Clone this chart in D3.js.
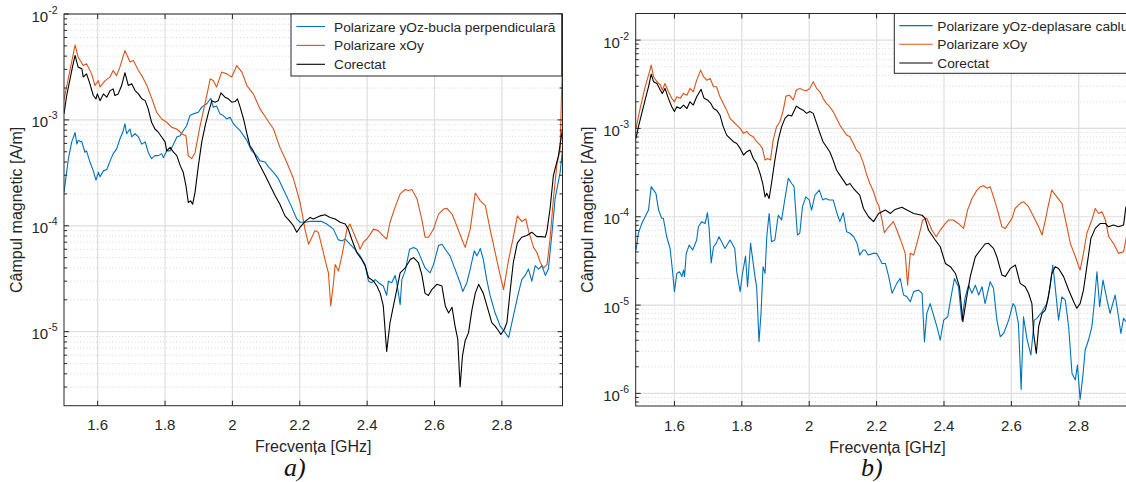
<!DOCTYPE html>
<html><head><meta charset="utf-8">
<script src="https://cdn.jsdelivr.net/npm/d3@7"></script>
<style>
body{margin:0;background:#fff}
svg{display:block}
text{font-family:"Liberation Sans",Arial,Helvetica,sans-serif;fill:#262626}
</style>
</head><body>
<svg id="c" width="1126" height="482"></svg>
<script>
// ---------- DATA (frequency GHz, field A/m) ----------
const aBlue = [[1.5,2.07e-4],[1.513,4.3e-4],[1.523,6.2e-4],[1.533,7.6e-4],[1.538,5.9e-4],[1.542,6.4e-4],[1.553,6.2e-4],[1.562,4.95e-4],[1.567,5.1e-4],[1.577,4.0e-4],[1.587,3.3e-4],[1.595,2.7e-4],[1.602,3.2e-4],[1.607,2.9e-4],[1.617,3.3e-4],[1.627,3.4e-4],[1.637,4.1e-4],[1.646,4.8e-4],[1.656,5.3e-4],[1.666,6.6e-4],[1.676,7.9e-4],[1.681,9.2e-4],[1.686,7.4e-4],[1.696,8.2e-4],[1.701,6.9e-4],[1.711,7.4e-4],[1.721,6.9e-4],[1.731,5.9e-4],[1.741,6.2e-4],[1.750,4.95e-4],[1.760,4.3e-4],[1.770,4.6e-4],[1.780,4.6e-4],[1.790,4.8e-4],[1.795,4.4e-4],[1.805,5.1e-4],[1.815,5.1e-4],[1.825,5.9e-4],[1.835,6.9e-4],[1.845,7.1e-4],[1.854,7.9e-4],[1.864,8.8e-4],[1.874,1.1e-3],[1.884,1.14e-3],[1.899,1.18e-3],[1.909,1.32e-3],[1.924,1.42e-3],[1.936,1.6e-3],[1.943,1.32e-3],[1.953,1.35e-3],[1.963,1.14e-3],[1.973,1.1e-3],[1.983,1.02e-3],[1.993,1.06e-3],[2.003,9.2e-4],[2.013,8.5e-4],[2.023,7.9e-4],[2.033,7.1e-4],[2.043,6.4e-4],[2.057,5.1e-4],[2.072,4.6e-4],[2.082,4.1e-4],[2.097,4.0e-4],[2.107,3.6e-4],[2.122,3.2e-4],[2.136,2.8e-4],[2.146,2.4e-4],[2.161,1.9e-4],[2.176,1.5e-4],[2.191,1.16e-4],[2.201,1.08e-4],[2.216,1.08e-4],[2.231,1.1e-4],[2.265,1.1e-4],[2.280,1.04e-4],[2.300,9.3e-5],[2.314,7.4e-5],[2.325,7.2e-5],[2.335,7.5e-5],[2.349,6.7e-5],[2.364,6.0e-5],[2.379,5.2e-5],[2.394,4.3e-5],[2.404,3.0e-5],[2.414,2.9e-5],[2.424,3.1e-5],[2.434,2.9e-5],[2.448,2.7e-5],[2.458,2.2e-5],[2.463,3.0e-5],[2.473,2.9e-5],[2.483,3.4e-5],[2.488,2.9e-5],[2.498,1.8e-5],[2.503,3.1e-5],[2.513,3.75e-5],[2.526,6.0e-5],[2.538,6.25e-5],[2.548,6.0e-5],[2.557,5.2e-5],[2.572,4.0e-5],[2.587,3.6e-5],[2.597,4.3e-5],[2.612,6.5e-5],[2.622,6.7e-5],[2.632,6.0e-5],[2.646,5.2e-5],[2.661,3.9e-5],[2.676,2.9e-5],[2.684,2.4e-5],[2.696,2.9e-5],[2.706,3.9e-5],[2.718,5.8e-5],[2.726,5.2e-5],[2.736,6.1e-5],[2.745,4.8e-5],[2.755,3.1e-5],[2.765,2.2e-5],[2.780,1.5e-5],[2.795,1.13e-5],[2.810,9.8e-6],[2.820,8.8e-6],[2.834,1.4e-5],[2.849,2.3e-5],[2.859,3.1e-5],[2.869,3.4e-5],[2.879,3.9e-5],[2.889,3.0e-5],[2.899,4.2e-5],[2.909,3.9e-5],[2.919,4.2e-5],[2.929,3.4e-5],[2.938,3.9e-5],[2.948,8.0e-5],[2.958,1.8e-4],[2.973,3.2e-4],[2.980,5.3e-4]];

const aOrange = [[1.5,1.55e-3],[1.533,5.1e-3],[1.542,3.92e-3],[1.557,3.26e-3],[1.567,3.39e-3],[1.582,2.72e-3],[1.592,2.11e-3],[1.602,2.35e-3],[1.607,2.05e-3],[1.622,2.35e-3],[1.637,2.55e-3],[1.646,2.93e-3],[1.656,2.62e-3],[1.666,3.15e-3],[1.681,4.53e-3],[1.696,3.52e-3],[1.706,3.64e-3],[1.721,2.93e-3],[1.731,2.62e-3],[1.746,2.11e-3],[1.761,1.58e-3],[1.775,1.18e-3],[1.790,1.02e-3],[1.805,9.5e-4],[1.820,8.5e-4],[1.835,8.2e-4],[1.850,7.4e-4],[1.862,7.1e-4],[1.869,4.6e-4],[1.879,4.3e-4],[1.889,4.9e-4],[1.904,8.8e-4],[1.924,1.7e-3],[1.934,2.44e-3],[1.943,2.35e-3],[1.953,2.04e-3],[1.968,2.83e-3],[1.983,2.72e-3],[1.998,2.54e-3],[2.013,3.26e-3],[2.028,2.83e-3],[2.043,2.11e-3],[2.062,1.76e-3],[2.082,1.27e-3],[2.102,1.02e-3],[2.122,8.2e-4],[2.141,5.5e-4],[2.161,4.0e-4],[2.181,2.8e-4],[2.201,1.66e-4],[2.216,9.1e-5],[2.226,6.7e-5],[2.236,7.8e-5],[2.245,9.0e-5],[2.255,8.7e-5],[2.265,6.5e-5],[2.275,4.8e-5],[2.285,3.6e-5],[2.292,1.75e-5],[2.300,2.9e-5],[2.305,4.3e-5],[2.315,3.75e-5],[2.325,5.2e-5],[2.340,9.3e-5],[2.349,1.04e-4],[2.359,8.7e-5],[2.374,6.7e-5],[2.379,6.0e-5],[2.389,7.0e-5],[2.399,7.5e-5],[2.409,8.3e-5],[2.419,9.3e-5],[2.433,9.0e-5],[2.448,8.0e-5],[2.458,7.5e-5],[2.468,1.08e-4],[2.483,1.5e-4],[2.498,2.0e-4],[2.513,2.2e-4],[2.523,2.15e-4],[2.533,2.2e-4],[2.548,1.8e-4],[2.562,1.16e-4],[2.572,7.8e-5],[2.582,7.8e-5],[2.597,9.3e-5],[2.612,1.29e-4],[2.627,1.44e-4],[2.637,1.46e-4],[2.652,1.29e-4],[2.666,1.0e-4],[2.681,7.5e-5],[2.691,6.25e-5],[2.706,9.3e-5],[2.721,2.04e-4],[2.736,1.72e-4],[2.751,1.55e-4],[2.765,9.3e-5],[2.780,5.6e-5],[2.795,3.4e-5],[2.805,2.5e-5],[2.820,4.8e-5],[2.834,7.8e-5],[2.846,1.24e-4],[2.859,1.1e-4],[2.871,1.16e-4],[2.879,9.0e-5],[2.894,6.25e-5],[2.904,5.6e-5],[2.914,4.5e-5],[2.924,4.0e-5],[2.934,4.3e-5],[2.943,7.5e-5],[2.953,1.79e-4],[2.963,3.7e-4],[2.973,5.3e-4],[2.980,4.0e-3]];

const aBlack = [[1.5,1.14e-3],[1.508,1.7e-3],[1.518,2.44e-3],[1.526,3.26e-3],[1.533,4.06e-3],[1.538,3.52e-3],[1.542,3.15e-3],[1.553,3.04e-3],[1.557,2.54e-3],[1.567,2.72e-3],[1.577,2.19e-3],[1.587,1.7e-3],[1.595,1.58e-3],[1.599,1.76e-3],[1.607,1.52e-3],[1.617,1.76e-3],[1.627,1.64e-3],[1.637,1.89e-3],[1.646,1.96e-3],[1.651,1.7e-3],[1.661,1.76e-3],[1.671,2.11e-3],[1.681,2.79e-3],[1.691,2.11e-3],[1.701,2.19e-3],[1.711,1.89e-3],[1.721,1.76e-3],[1.731,1.58e-3],[1.741,1.52e-3],[1.750,1.27e-3],[1.760,9.5e-4],[1.770,8.2e-4],[1.780,7.65e-4],[1.790,6.9e-4],[1.800,6.2e-4],[1.805,5.1e-4],[1.815,5.5e-4],[1.825,4.95e-4],[1.835,4.6e-4],[1.845,3.7e-4],[1.854,3.2e-4],[1.862,2.4e-4],[1.869,1.66e-4],[1.876,1.72e-4],[1.882,1.6e-4],[1.889,2.07e-4],[1.899,3.7e-4],[1.909,6.2e-4],[1.919,8.8e-4],[1.929,1.18e-3],[1.939,1.52e-3],[1.948,1.47e-3],[1.958,1.52e-3],[1.966,1.8e-3],[1.978,1.64e-3],[1.988,1.58e-3],[1.998,1.47e-3],[2.008,1.49e-3],[2.015,1.58e-3],[2.023,1.32e-3],[2.033,1.02e-3],[2.043,7.4e-4],[2.052,5.7e-4],[2.062,5.1e-4],[2.072,4.3e-4],[2.082,3.7e-4],[2.097,3.0e-4],[2.112,2.4e-4],[2.127,1.92e-4],[2.141,1.6e-4],[2.156,1.24e-4],[2.171,1.1e-4],[2.181,1.0e-4],[2.191,8.7e-5],[2.201,9.7e-5],[2.216,1.1e-4],[2.231,1.2e-4],[2.240,1.16e-4],[2.260,1.24e-4],[2.275,1.27e-4],[2.290,1.2e-4],[2.305,1.16e-4],[2.320,1.08e-4],[2.335,1.04e-4],[2.344,9.3e-5],[2.354,7.5e-5],[2.369,5.6e-5],[2.384,4.8e-5],[2.394,4.2e-5],[2.404,3.25e-5],[2.419,3.0e-5],[2.429,2.7e-5],[2.439,2.3e-5],[2.448,1.75e-5],[2.458,6.5e-6],[2.468,1.22e-5],[2.478,1.75e-5],[2.488,2.5e-5],[2.498,3.6e-5],[2.513,4.0e-5],[2.528,4.8e-5],[2.538,5.0e-5],[2.552,4.5e-5],[2.562,3.5e-5],[2.572,2.3e-5],[2.582,2.2e-5],[2.592,2.5e-5],[2.607,2.8e-5],[2.622,2.7e-5],[2.632,1.75e-5],[2.642,1.5e-5],[2.652,1.7e-5],[2.661,1.13e-5],[2.669,8.5e-6],[2.676,3.0e-6],[2.683,5.9e-6],[2.691,8.2e-6],[2.701,9.8e-6],[2.711,1.6e-5],[2.721,2.3e-5],[2.731,2.8e-5],[2.745,2.3e-5],[2.760,1.57e-5],[2.770,1.22e-5],[2.780,1.13e-5],[2.790,1.02e-5],[2.797,9.4e-6],[2.807,1.05e-5],[2.815,1.22e-5],[2.825,2.5e-5],[2.834,4.5e-5],[2.846,6.9e-5],[2.859,7.8e-5],[2.874,8.1e-5],[2.889,8.7e-5],[2.904,7.9e-5],[2.919,7.9e-5],[2.929,7.8e-5],[2.934,9.0e-5],[2.943,1.44e-4],[2.953,3.0e-4],[2.968,4.6e-4],[2.980,8.2e-4]];

const bBlue = [[1.486,4.2e-5],[1.493,6.5e-5],[1.503,8.4e-5],[1.513,1.0e-4],[1.523,1.19e-4],[1.531,2.19e-4],[1.538,2.0e-4],[1.545,1.84e-4],[1.553,1.19e-4],[1.562,9.6e-5],[1.567,9.6e-5],[1.577,5.94e-5],[1.587,4.38e-5],[1.594,2.49e-5],[1.600,1.42e-5],[1.607,2.28e-5],[1.615,2.38e-5],[1.622,2.1e-5],[1.627,2.49e-5],[1.630,2.1e-5],[1.635,3.85e-5],[1.644,4.78e-5],[1.654,4.2e-5],[1.666,5.45e-5],[1.671,7.7e-5],[1.681,8.8e-5],[1.691,8.4e-5],[1.698,1.11e-4],[1.703,7.38e-5],[1.709,3.0e-5],[1.716,4.57e-5],[1.724,5.0e-5],[1.732,5.94e-5],[1.740,5.21e-5],[1.750,4.38e-5],[1.765,5.45e-5],[1.779,4.38e-5],[1.785,2.38e-5],[1.795,1.42e-5],[1.802,2.28e-5],[1.811,3.59e-5],[1.817,1.61e-5],[1.826,5.0e-5],[1.839,2.1e-5],[1.844,1.61e-5],[1.851,3.85e-6],[1.857,8.05e-6],[1.863,2.72e-5],[1.869,2.28e-5],[1.874,5.94e-5],[1.881,1.09e-4],[1.888,5.21e-5],[1.898,5.45e-5],[1.908,1.04e-4],[1.918,9.2e-5],[1.928,1.61e-4],[1.938,2.72e-4],[1.948,2.38e-4],[1.955,2.19e-4],[1.965,6.2e-5],[1.972,6.5e-5],[1.980,1.3e-4],[1.990,1.68e-4],[2.000,1.55e-4],[2.007,1.19e-4],[2.017,1.76e-4],[2.030,2.0e-4],[2.040,1.55e-4],[2.049,1.61e-4],[2.059,1.55e-4],[2.071,1.55e-4],[2.081,1.14e-4],[2.091,8.8e-5],[2.101,1.11e-4],[2.111,6.76e-5],[2.121,6.5e-5],[2.132,5.94e-5],[2.142,5.0e-5],[2.150,3.68e-5],[2.160,4.2e-5],[2.166,4.2e-5],[2.175,3.68e-5],[2.190,3.85e-5],[2.200,3.85e-5],[2.206,3.52e-5],[2.216,2.96e-5],[2.226,2.96e-5],[2.236,2.1e-5],[2.246,1.36e-5],[2.260,1.76e-5],[2.270,2.0e-5],[2.280,1.3e-5],[2.290,1.24e-5],[2.300,1.09e-5],[2.310,1.42e-5],[2.325,1.48e-5],[2.335,1.36e-5],[2.342,3.85e-6],[2.349,8.05e-6],[2.359,1.04e-5],[2.369,7.7e-6],[2.379,5.69e-6],[2.389,4.02e-6],[2.399,6.76e-6],[2.411,7.38e-6],[2.421,1.24e-5],[2.431,2.0e-5],[2.443,1.61e-5],[2.453,6.76e-6],[2.463,1.24e-5],[2.473,1.68e-5],[2.483,1.36e-5],[2.493,1.68e-5],[2.503,1.3e-5],[2.513,1.61e-5],[2.522,1.04e-5],[2.537,1.84e-5],[2.547,1.55e-5],[2.557,6.76e-6],[2.567,4.38e-6],[2.577,4.77e-6],[2.592,6.76e-6],[2.605,1.04e-5],[2.611,9.6e-6],[2.621,6.2e-6],[2.629,1.11e-6],[2.636,7.38e-6],[2.646,4.2e-6],[2.658,2.72e-6],[2.668,6.76e-6],[2.676,7.07e-6],[2.691,8.4e-6],[2.705,1.04e-5],[2.715,1.61e-5],[2.723,2.84e-5],[2.730,1.61e-5],[2.740,6.76e-6],[2.750,1.24e-5],[2.760,1.14e-5],[2.770,5.69e-6],[2.780,1.68e-6],[2.790,1.42e-6],[2.796,2.1e-6],[2.804,8.55e-7],[2.812,1.55e-6],[2.819,3.1e-6],[2.829,4.02e-6],[2.839,5.69e-6],[2.846,1.04e-5],[2.854,2.38e-5],[2.862,9.6e-6],[2.872,1.92e-5],[2.884,1.14e-5],[2.893,8.05e-6],[2.908,1.3e-5],[2.918,7.38e-6],[2.925,4.77e-6],[2.933,7.07e-6],[2.940,6.5e-6],[2.945,6.2e-6]];

const bOrange = [[1.486,1.0e-3],[1.498,1.68e-3],[1.513,2.96e-3],[1.526,4.39e-3],[1.531,5.21e-3],[1.538,3.85e-3],[1.548,3.38e-3],[1.558,3.1e-3],[1.564,2.72e-3],[1.572,3.23e-3],[1.582,2.6e-3],[1.592,2.19e-3],[1.600,2.0e-3],[1.607,2.28e-3],[1.617,2.19e-3],[1.627,2.49e-3],[1.637,2.38e-3],[1.646,2.84e-3],[1.656,2.6e-3],[1.666,3.52e-3],[1.678,4.57e-3],[1.686,3.85e-3],[1.696,3.52e-3],[1.706,3.68e-3],[1.716,2.96e-3],[1.725,2.96e-3],[1.735,2.28e-3],[1.745,1.92e-3],[1.755,1.61e-3],[1.765,1.3e-3],[1.775,1.19e-3],[1.785,1.09e-3],[1.795,1.0e-3],[1.805,8.8e-4],[1.815,9.2e-4],[1.824,8.4e-4],[1.834,8.05e-4],[1.844,7.07e-4],[1.854,6.5e-4],[1.861,5.94e-4],[1.869,4.38e-4],[1.877,4.57e-4],[1.885,4.38e-4],[1.893,7.38e-4],[1.903,1.04e-3],[1.913,1.19e-3],[1.923,1.61e-3],[1.931,2.32e-3],[1.941,2.38e-3],[1.953,2.1e-3],[1.962,2.72e-3],[1.972,2.84e-3],[1.982,2.72e-3],[1.992,2.67e-3],[2.002,2.84e-3],[2.012,3.38e-3],[2.022,2.84e-3],[2.032,2.6e-3],[2.041,2.19e-3],[2.051,1.92e-3],[2.061,1.76e-3],[2.071,1.55e-3],[2.081,1.3e-3],[2.091,1.09e-3],[2.101,9.6e-4],[2.111,8.4e-4],[2.121,8.05e-4],[2.131,6.76e-4],[2.140,5.69e-4],[2.150,5.21e-4],[2.161,4.02e-4],[2.171,2.96e-4],[2.180,2.38e-4],[2.191,1.92e-4],[2.200,1.48e-4],[2.206,1.36e-4],[2.216,9.2e-5],[2.223,6.6e-5],[2.236,7.7e-5],[2.250,8.8e-5],[2.260,7.07e-5],[2.275,5.0e-5],[2.285,3.85e-5],[2.292,1.68e-5],[2.300,3.85e-5],[2.310,3.68e-5],[2.325,5.94e-5],[2.337,9.2e-5],[2.349,9.6e-5],[2.364,7.07e-5],[2.377,5.94e-5],[2.389,7.07e-5],[2.404,8.4e-5],[2.414,9.2e-5],[2.428,9.2e-5],[2.443,8.4e-5],[2.458,7.38e-5],[2.470,1.19e-4],[2.483,1.61e-4],[2.498,2.0e-4],[2.508,2.19e-4],[2.518,2.24e-4],[2.528,2.1e-4],[2.537,2.19e-4],[2.547,1.68e-4],[2.559,1.19e-4],[2.572,7.7e-5],[2.582,7.38e-5],[2.592,8.4e-5],[2.602,9.6e-5],[2.611,1.24e-4],[2.626,1.42e-4],[2.636,1.48e-4],[2.651,1.3e-4],[2.666,1.0e-4],[2.681,7.7e-5],[2.691,6.2e-5],[2.701,9.2e-5],[2.710,1.36e-4],[2.720,2.0e-4],[2.735,1.68e-4],[2.750,1.42e-4],[2.765,7.7e-5],[2.775,5.0e-5],[2.790,3.52e-5],[2.804,2.49e-5],[2.814,3.85e-5],[2.824,6.5e-5],[2.839,9.2e-5],[2.849,1.24e-4],[2.859,1.09e-4],[2.869,1.14e-4],[2.879,9.2e-5],[2.889,5.94e-5],[2.903,5.0e-5],[2.918,3.85e-5],[2.933,4.02e-5],[2.942,6.0e-5]];

const bBlack = [[1.486,7.7e-4],[1.493,1.04e-3],[1.503,1.48e-3],[1.513,2.1e-3],[1.523,2.96e-3],[1.531,4.12e-3],[1.538,3.38e-3],[1.548,3.23e-3],[1.558,2.72e-3],[1.564,2.49e-3],[1.572,2.84e-3],[1.582,2.19e-3],[1.592,1.76e-3],[1.600,1.55e-3],[1.607,1.76e-3],[1.617,1.68e-3],[1.627,1.84e-3],[1.637,1.68e-3],[1.646,2.0e-3],[1.656,1.84e-3],[1.666,2.28e-3],[1.679,2.77e-3],[1.688,2.19e-3],[1.698,2.1e-3],[1.708,1.92e-3],[1.716,1.68e-3],[1.725,1.61e-3],[1.735,1.42e-3],[1.745,1.04e-3],[1.755,8.4e-4],[1.765,7.7e-4],[1.775,7.07e-4],[1.785,6.76e-4],[1.795,5.94e-4],[1.805,5.0e-4],[1.815,5.45e-4],[1.824,5.69e-4],[1.834,4.57e-4],[1.844,4.02e-4],[1.854,3.1e-4],[1.862,2.38e-4],[1.869,1.68e-4],[1.874,1.84e-4],[1.881,1.61e-4],[1.888,2.38e-4],[1.898,4.38e-4],[1.908,7.38e-4],[1.918,1.04e-3],[1.928,1.3e-3],[1.938,1.42e-3],[1.948,1.38e-3],[1.962,1.79e-3],[1.972,1.68e-3],[1.982,1.61e-3],[1.992,1.48e-3],[2.002,1.55e-3],[2.012,1.48e-3],[2.022,1.14e-3],[2.032,8.8e-4],[2.041,7.07e-4],[2.051,6.2e-4],[2.061,5.45e-4],[2.071,4.38e-4],[2.081,3.38e-4],[2.091,2.96e-4],[2.101,2.6e-4],[2.111,2.28e-4],[2.121,2.38e-4],[2.131,2.1e-4],[2.140,1.92e-4],[2.150,1.76e-4],[2.161,1.24e-4],[2.176,1.0e-4],[2.191,8.8e-5],[2.206,1.09e-4],[2.226,1.19e-4],[2.241,1.09e-4],[2.255,1.21e-4],[2.275,1.28e-4],[2.290,1.19e-4],[2.310,1.09e-4],[2.335,1.04e-4],[2.344,9.6e-5],[2.354,7.07e-5],[2.374,5.45e-5],[2.389,4.57e-5],[2.404,2.96e-5],[2.419,2.72e-5],[2.434,2.28e-5],[2.446,1.61e-5],[2.456,6.5e-6],[2.466,1.14e-5],[2.478,2.1e-5],[2.493,3.52e-5],[2.508,4.2e-5],[2.522,4.91e-5],[2.532,5.0e-5],[2.547,4.38e-5],[2.557,3.52e-5],[2.572,2.19e-5],[2.582,2.1e-5],[2.597,2.6e-5],[2.612,2.84e-5],[2.626,1.76e-5],[2.641,1.61e-5],[2.651,1.36e-5],[2.661,1.04e-5],[2.666,4.77e-6],[2.674,2.84e-6],[2.681,5.69e-6],[2.691,8.05e-6],[2.701,8.8e-6],[2.710,1.24e-5],[2.720,2.28e-5],[2.730,2.72e-5],[2.740,2.6e-5],[2.755,2.1e-5],[2.770,1.48e-5],[2.785,1.09e-5],[2.794,9.2e-6],[2.804,1.04e-5],[2.814,1.48e-5],[2.824,2.72e-5],[2.836,5.69e-5],[2.849,7.38e-5],[2.864,8.4e-5],[2.879,8.4e-5],[2.888,7.7e-5],[2.903,8.05e-5],[2.918,7.7e-5],[2.933,8.05e-5],[2.940,1.3e-4]];

const xTicks = [1.6, 1.8, 2, 2.2, 2.4, 2.6, 2.8];
const xTickLabels = ["1.6", "1.8", "2", "2.2", "2.4", "2.6", "2.8"];
const yTicksA = [1e-5, 1e-4, 1e-3, 1e-2];
const yTickExpA = ["-5", "-4", "-3", "-2"];
const yTicksB = [1e-6, 1e-5, 1e-4, 1e-3, 1e-2];
const yTickExpB = ["-6", "-5", "-4", "-3", "-2"];
const legendA = ["Polarizare yOz-bucla perpendiculară", "Polarizare xOy", "Corectat"];
const legendB = ["Polarizare yOz-deplasare cablu", "Polarizare xOy", "Corectat"];
const xLabel = "Frecvența [GHz]";
const yLabel = "Câmpul magnetic [A/m]";
const panelTags = ["a)", "b)"];
const colors = ["#0072BD", "#D95319", "#000000"];

// ---------- DRAWING ----------
const svg = d3.select("#c");
const defs = svg.append("defs");

function drawPanel(p) {
  const x = d3.scaleLinear().domain(p.xDomain).range([p.left, p.right]);
  const y = d3.scaleLog().domain(p.yDomain).range([p.bottom, p.top]);
  const g = svg.append("g");
  const W = p.right - p.left, H = p.bottom - p.top;

  defs.append("clipPath").attr("id", "clip" + p.id)
    .append("rect").attr("x", p.left).attr("y", p.top).attr("width", W).attr("height", H);

  const majors = p.yTicks.filter(v => v >= p.yDomain[0] && v <= p.yDomain[1]);
  const minors = y.ticks().filter(v => !majors.some(m => Math.abs(m - v) / m < 1e-6))
    .filter(v => v > p.yDomain[0] && v < p.yDomain[1]);

  // grid
  g.selectAll(".gmin").data(minors).join("line")
    .attr("x1", p.left).attr("x2", p.right)
    .attr("y1", d => y(d)).attr("y2", d => y(d))
    .attr("stroke", "#cfcfcf").attr("stroke-width", 0.8).attr("stroke-dasharray", "1,2.2");
  g.selectAll(".gmaj").data(majors).join("line")
    .attr("x1", p.left).attr("x2", p.right)
    .attr("y1", d => y(d)).attr("y2", d => y(d))
    .attr("stroke", "#dedede").attr("stroke-width", 1.2);
  g.selectAll(".gx").data(xTicks).join("line")
    .attr("x1", d => x(d)).attr("x2", d => x(d))
    .attr("y1", p.top).attr("y2", p.bottom)
    .attr("stroke", "#dedede").attr("stroke-width", 1.2);

  // series
  const line = d3.line().x(d => x(d[0])).y(d => y(d[1]));
  const sg = g.append("g").attr("clip-path", "url(#clip" + p.id + ")");
  p.series.forEach((s, i) => {
    sg.append("path").datum(s).attr("d", line)
      .attr("fill", "none").attr("stroke", colors[i]).attr("stroke-width", 1.1)
      .attr("stroke-linejoin", "round");
  });

  // box
  const ax = "#262626";
  g.append("rect").attr("x", p.left).attr("y", p.top).attr("width", W).attr("height", H)
    .attr("fill", "none").attr("stroke", ax).attr("stroke-width", 1);

  // x ticks (bottom and top, inward)
  xTicks.forEach(t => {
    g.append("line").attr("x1", x(t)).attr("x2", x(t)).attr("y1", p.bottom).attr("y2", p.bottom - 5).attr("stroke", ax);
    g.append("line").attr("x1", x(t)).attr("x2", x(t)).attr("y1", p.top).attr("y2", p.top + 5).attr("stroke", ax);
  });
  // y ticks left and right
  [[majors, 5], [minors, 3]].forEach(([arr, len]) => {
    arr.forEach(v => {
      g.append("line").attr("x1", p.left).attr("x2", p.left + len).attr("y1", y(v)).attr("y2", y(v)).attr("stroke", ax);
      g.append("line").attr("x1", p.right).attr("x2", p.right - len).attr("y1", y(v)).attr("y2", y(v)).attr("stroke", ax);
    });
  });

  // x tick labels
  xTicks.forEach((t, i) => {
    g.append("text").attr("x", x(t)).attr("y", p.bottom + 24.5)
      .attr("text-anchor", "middle").style("font-size", "15px").text(xTickLabels[i]);
  });
  // y tick labels
  p.yTicks.forEach((v, i) => {
    if (v < p.yDomain[0] || v > p.yDomain[1]) return;
    const t = g.append("text").attr("x", p.left - 6.5).attr("y", y(v) + 7.5)
      .attr("text-anchor", "end").style("font-size", "15px");
    t.append("tspan").text("10");
    t.append("tspan").attr("dy", -8).style("font-size", "10.5px").text(p.yExp[i]);
  });

  // axis labels
  g.append("text").attr("x", (p.left + p.right) / 2).attr("y", p.bottom + 46.5)
    .attr("text-anchor", "middle").style("font-size", "16px").text(xLabel);
  g.append("text").attr("transform", `translate(${p.yLabelX},${(p.top + p.bottom) / 2}) rotate(-90)`)
    .attr("text-anchor", "middle").attr("dominant-baseline", "central")
    .style("font-size", "16px").text(yLabel);

  // legend
  const L = p.legend;
  g.append("rect").attr("x", L.x).attr("y", L.y).attr("width", L.w).attr("height", L.h)
    .attr("fill", "#fff").attr("stroke", ax).attr("stroke-width", 1);
  p.legendText.forEach((txt, i) => {
    const yy = L.row0 + i * L.step;
    g.append("line").attr("x1", L.lx1).attr("x2", L.lx2).attr("y1", yy).attr("y2", yy)
      .attr("stroke", colors[i]).attr("stroke-width", 1.1);
    g.append("text").attr("x", L.tx).attr("y", yy + 5).style("font-size", "13.7px").text(txt);
  });

  // panel tag
  g.append("text").attr("x", p.tagX).attr("y", 476)
    .style("font-family", "'Liberation Serif','Times New Roman',serif")
    .style("font-style", "italic").style("font-size", "26px").style("fill", "#111").text(p.tag);
}

drawPanel({
  id: "A", left: 64, right: 562.5, top: 14, bottom: 405.7,
  xDomain: [1.5, 2.98], yDomain: [2e-6, 1e-2],
  yTicks: yTicksA, yExp: yTickExpA,
  series: [aBlue, aOrange, aBlack], legendText: legendA,
  legend: { x: 291, y: 14, w: 270.7, h: 62, row0: 26.5, step: 18.9, lx1: 296.5, lx2: 325, tx: 334 },
  yLabelX: 16.5, tag: panelTags[0], tagX: 284
});

drawPanel({
  id: "B", left: 635.7, right: 1139.4, top: 13.5, bottom: 406,
  xDomain: [1.485, 2.98], yDomain: [7.2e-7, 2e-2],
  yTicks: yTicksB, yExp: yTickExpB,
  series: [bBlue, bOrange, bBlack], legendText: legendB,
  legend: { x: 894.3, y: 13.5, w: 300, h: 59.8, row0: 25.6, step: 18.7, lx1: 899.3, lx2: 932.7, tx: 937.3 },
  yLabelX: 587, tag: panelTags[1], tagX: 861
});
</script>
</body></html>
